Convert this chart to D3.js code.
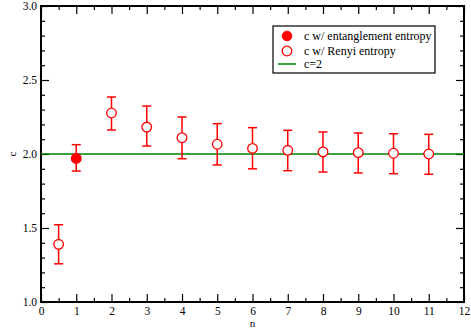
<!DOCTYPE html>
<html>
<head>
<meta charset="utf-8">
<script src="https://cdn.jsdelivr.net/npm/d3@7"></script>
<style>
  body { margin: 0; background: #fff; }
  text { font-family: "Liberation Serif", "DejaVu Serif", serif; }
</style>
</head>
<body>
<script>
// data
var nValues = [0.5, 1, 2, 3, 4, 5, 6, 7, 8, 9, 10, 11];
var cValues = [1.39, 1.97, 2.277, 2.182, 2.11, 2.066, 2.038, 2.025, 2.014, 2.009, 2.005, 2.0];
var cUpper = [1.522, 2.063, 2.385, 2.324, 2.25, 2.205, 2.178, 2.16, 2.149, 2.142, 2.137, 2.133];
var cLower = [1.258, 1.885, 2.162, 2.054, 1.968, 1.926, 1.90, 1.887, 1.878, 1.872, 1.867, 1.863];
// which point is the entanglement entropy (filled) one
var filled = [false, true, false, false, false, false, false, false, false, false, false, false];
var xTicks = [0, 1, 2, 3, 4, 5, 6, 7, 8, 9, 10, 11, 12];
var yTicks = [1.0, 1.5, 2.0, 2.5, 3.0];
var refLine = 2;
var legendLabels = ["c w/ entanglement entropy", "c w/ Renyi entropy", "c=2"];

const width = 471;
const height = 331;
var margin = {left: 41, right: 7, top: 6, bottom: 29};

var svg = d3.select("body").append("svg")
    .attr("width", width)
    .attr("height", height);

var x = d3.scaleLinear().domain([0, 12]).range([margin.left, width - margin.right]);
var y = d3.scaleLinear().domain([1, 3]).range([height - margin.bottom, margin.top]);

var red = "#ff0000";

// axes, ticks pointing inwards
function styleAxis(g) {
    g.select(".domain").remove();
    g.selectAll("line").attr("stroke", "#000").attr("stroke-width", 1.2);
    g.selectAll("text").attr("font-size", 11.5).attr("fill", "#000");
}

var minorX = d3.range(0.5, 12, 1);
var minorY = d3.range(1.1, 3.0, 0.1).filter(function(v) { return Math.abs(v * 2 - Math.round(v * 2)) > 0.01; });

// bottom
var gb = svg.append("g").attr("transform", "translate(0," + y(1) + ")");
gb.call(d3.axisBottom(x).tickValues(xTicks).tickFormat(d3.format("d")).tickSizeInner(-8).tickPadding(5));
styleAxis(gb);
svg.append("g").attr("transform", "translate(0," + y(1) + ")")
    .call(d3.axisBottom(x).tickValues(minorX).tickFormat("").tickSizeInner(-4))
    .call(styleAxis);

// top
svg.append("g").attr("transform", "translate(0," + y(3) + ")")
    .call(d3.axisTop(x).tickValues(xTicks).tickFormat("").tickSizeInner(-8))
    .call(styleAxis);
svg.append("g").attr("transform", "translate(0," + y(3) + ")")
    .call(d3.axisTop(x).tickValues(minorX).tickFormat("").tickSizeInner(-4))
    .call(styleAxis);

// left
var gl = svg.append("g").attr("transform", "translate(" + x(0) + ",0)");
gl.call(d3.axisLeft(y).tickValues(yTicks).tickFormat(d3.format(".1f")).tickSizeInner(-8).tickPadding(4));
styleAxis(gl);
svg.append("g").attr("transform", "translate(" + x(0) + ",0)")
    .call(d3.axisLeft(y).tickValues(minorY).tickFormat("").tickSizeInner(-4))
    .call(styleAxis);

// right
svg.append("g").attr("transform", "translate(" + x(12) + ",0)")
    .call(d3.axisRight(y).tickValues(yTicks).tickFormat("").tickSizeInner(-8))
    .call(styleAxis);
svg.append("g").attr("transform", "translate(" + x(12) + ",0)")
    .call(d3.axisRight(y).tickValues(minorY).tickFormat("").tickSizeInner(-4))
    .call(styleAxis);

// frame
svg.append("rect")
    .attr("x", x(0)).attr("y", y(3))
    .attr("width", x(12) - x(0)).attr("height", y(1) - y(3))
    .attr("fill", "none").attr("stroke", "#000").attr("stroke-width", 2);

// axis titles
svg.append("text").attr("x", (x(0) + x(12)) / 2).attr("y", 327)
    .attr("text-anchor", "middle").attr("font-size", 11).text("n");
svg.append("text")
    .attr("transform", "translate(16," + y(2) + ") rotate(-90)")
    .attr("text-anchor", "middle").attr("font-size", 11).text("c");

// reference line c=2
svg.append("line")
    .attr("x1", x(0)).attr("x2", x(12))
    .attr("y1", y(refLine)).attr("y2", y(refLine))
    .attr("stroke", "#008000").attr("stroke-width", 1.5);

// error bars
var pts = nValues.map(function(n, i) {
    return {n: n, c: cValues[i], hi: cUpper[i], lo: cLower[i], filled: filled[i]};
});

var bars = svg.append("g").attr("stroke", red).attr("stroke-width", 1.5).attr("fill", "none");
bars.selectAll(".v").data(pts).enter().append("line")
    .attr("x1", function(d) { return x(d.n); })
    .attr("x2", function(d) { return x(d.n); })
    .attr("y1", function(d) { return y(d.hi); })
    .attr("y2", function(d) { return y(d.lo); });
bars.selectAll(".top").data(pts).enter().append("line")
    .attr("x1", function(d) { return x(d.n) - 4.5; })
    .attr("x2", function(d) { return x(d.n) + 4.5; })
    .attr("y1", function(d) { return y(d.hi); })
    .attr("y2", function(d) { return y(d.hi); });
bars.selectAll(".bot").data(pts).enter().append("line")
    .attr("x1", function(d) { return x(d.n) - 4.5; })
    .attr("x2", function(d) { return x(d.n) + 4.5; })
    .attr("y1", function(d) { return y(d.lo); })
    .attr("y2", function(d) { return y(d.lo); });

// markers
svg.append("g").selectAll("circle").data(pts).enter().append("circle")
    .attr("cx", function(d) { return x(d.n); })
    .attr("cy", function(d) { return y(d.c); })
    .attr("r", 4.8)
    .attr("fill", function(d) { return d.filled ? red : "#fff"; })
    .attr("stroke", red)
    .attr("stroke-width", 1.3);

// legend
var lg = svg.append("g").attr("transform", "translate(273,26)");
lg.append("rect").attr("width", 162).attr("height", 47)
    .attr("fill", "#fff").attr("stroke", "#000").attr("stroke-width", 1.2);
var rows = [10, 25, 38];
lg.append("circle").attr("cx", 14).attr("cy", rows[0]).attr("r", 4.8).attr("fill", red).attr("stroke", red);
lg.append("circle").attr("cx", 14).attr("cy", rows[1]).attr("r", 4.8).attr("fill", "#fff").attr("stroke", red).attr("stroke-width", 1.3);
lg.append("line").attr("x1", 5).attr("x2", 23).attr("y1", rows[2]).attr("y2", rows[2])
    .attr("stroke", "#008000").attr("stroke-width", 1.5);
lg.selectAll(".lbl").data(legendLabels).enter().append("text")
    .attr("x", 31)
    .attr("y", function(d, i) { return rows[i] + 4; })
    .attr("font-size", 12)
    .text(function(d) { return d; });
</script>
</body>
</html>
